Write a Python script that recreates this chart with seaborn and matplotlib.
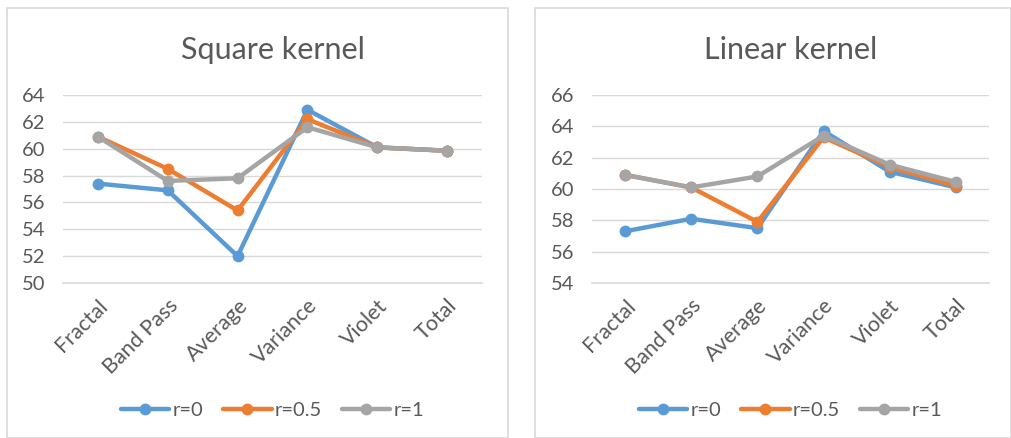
import pandas as pd
import matplotlib
matplotlib.use("Agg")
import matplotlib.pyplot as plt
from matplotlib.patches import Rectangle
from matplotlib.lines import Line2D
import seaborn as sns

# categories and series values
categories = ['Fractal', 'Band Pass', 'Average', 'Variance', 'Violet', 'Total']
series_names = ['r=0', 'r=0.5', 'r=1']

square_r0 = [57.4, 56.9, 52.0, 62.9, 60.1, 59.85]
square_r05 = [60.9, 58.5, 55.4, 62.2, 60.1, 59.85]
square_r1 = [60.9, 57.6, 57.8, 61.6, 60.1, 59.85]

linear_r0 = [57.3, 58.1, 57.5, 63.7, 61.1, 60.1]
linear_r05 = [60.9, 60.1, 57.9, 63.3, 61.4, 60.2]
linear_r1 = [60.9, 60.1, 60.8, 63.4, 61.55, 60.45]

colors = {'r=0': '#5B9BD5', 'r=0.5': '#ED7D31', 'r=1': '#A5A5A5'}
text_color = '#595959'


def long_frame(values):
    rows = []
    for name, vals in zip(series_names, values):
        for cat, v in zip(categories, vals):
            rows.append({'category': cat, 'value': v, 'series': name})
    return pd.DataFrame(rows)


sns.set_theme(style="white")
plt.rcParams['font.family'] = ['Lato', 'DejaVu Sans']

fig = plt.figure(figsize=(10.12, 4.38), dpi=100)
W, H = 1012, 438

# panel frames like the Excel chart areas
for x0, x1 in [(7, 508), (535, 1011)]:
    fig.patches.append(Rectangle((x0 / W, 0), (x1 - x0) / W, (H - 8) / H,
                                 transform=fig.transFigure, fill=False,
                                 edgecolor='#d9d9d9', linewidth=1.2))

panels = [
    ('Square kernel', [square_r0, square_r05, square_r1], (63, 482), (50, 64)),
    ('Linear kernel', [linear_r0, linear_r05, linear_r1], (592, 989), (54, 66)),
]

for title, vals, (px0, px1), (ylo, yhi) in panels:
    ax = fig.add_axes([px0 / W, (H - 283) / H, (px1 - px0) / W, 188 / H])
    df = long_frame(vals)
    sns.lineplot(data=df, x='category', y='value', hue='series', palette=colors,
                 marker='o', markersize=8.5, markeredgewidth=0, linewidth=3.2,
                 sort=False, legend=False, ax=ax)
    ax.set_xlim(-0.5, len(categories) - 0.5)
    ax.set_ylim(ylo, yhi)
    ax.set_yticks(range(ylo, yhi + 1, 2))
    ax.grid(axis='y', color='#d9d9d9', linewidth=1)
    ax.set_axisbelow(True)
    for s in ['top', 'right', 'left']:
        ax.spines[s].set_visible(False)
    ax.spines['bottom'].set_color('#d9d9d9')
    ax.spines['bottom'].set_linewidth(1.2)
    ax.set_xticks(range(len(categories)))
    ax.set_xticklabels(categories, rotation=45, ha='right', rotation_mode='anchor')
    ax.set_xticks([i - 0.5 for i in range(len(categories) + 1)], minor=True)
    ax.tick_params(axis='x', which='major', length=0, pad=9, labelsize=15.5, labelcolor=text_color)
    ax.tick_params(axis='x', which='minor', length=6, width=1.2, color='#d9d9d9', direction='out')
    ax.tick_params(axis='y', length=0, pad=13, labelsize=14.5, labelcolor=text_color)
    ax.set_xlabel('')
    ax.set_ylabel('')
    ax.set_title(title, fontsize=22, color=text_color, pad=26)
    handles = [Line2D([], [], color=colors[n], linewidth=3.2, marker='o', markersize=8.5,
                      markeredgewidth=0) for n in series_names]
    ax.legend(handles, series_names, loc='center', bbox_to_anchor=(0.5, -0.68),
              ncol=3, frameon=False, fontsize=14.5, handlelength=2.4, columnspacing=1.0,
              handletextpad=0.15, labelcolor=text_color)

fig.savefig('out.png', dpi=100)
